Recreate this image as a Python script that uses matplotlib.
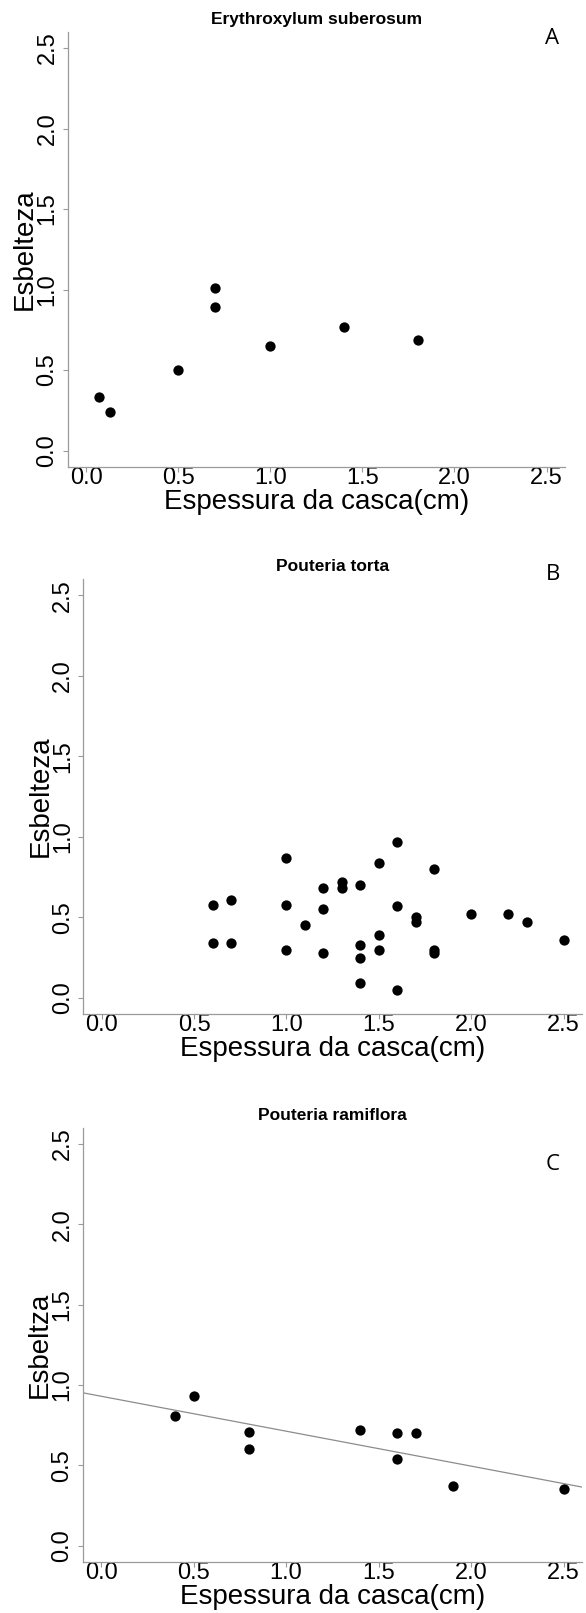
import numpy as np
import matplotlib
matplotlib.use("Agg")
import matplotlib.pyplot as plt
from matplotlib.ticker import FormatStrFormatter

plt.rcParams['font.family'] = ['Liberation Sans', 'DejaVu Sans']

# Painel A - Erythroxylum suberosum
ery_casca = [0.07, 0.13, 0.5, 0.7, 0.7, 1.0, 1.4, 1.8]
ery_esbelteza = [0.33, 0.24, 0.50, 1.01, 0.89, 0.65, 0.77, 0.69]

# Painel B - Pouteria torta
tor_casca = [0.6, 0.6, 0.7, 0.7, 1.0, 1.0, 1.0, 1.1, 1.2, 1.2, 1.2, 1.3, 1.3,
             1.4, 1.4, 1.4, 1.4, 1.5, 1.5, 1.5, 1.6, 1.6, 1.6, 1.7, 1.7,
             1.8, 1.8, 1.8, 2.0, 2.2, 2.3, 2.5]
tor_esbelteza = [0.58, 0.34, 0.61, 0.34, 0.87, 0.58, 0.30, 0.45, 0.68, 0.55, 0.28, 0.72, 0.68,
                 0.70, 0.33, 0.25, 0.09, 0.84, 0.39, 0.30, 0.97, 0.57, 0.05, 0.50, 0.47,
                 0.80, 0.30, 0.28, 0.52, 0.52, 0.47, 0.36]

# Painel C - Pouteria ramiflora
ram_casca = [0.4, 0.5, 0.8, 0.8, 1.4, 1.6, 1.6, 1.7, 1.9, 2.5]
ram_esbelteza = [0.81, 0.93, 0.71, 0.60, 0.72, 0.70, 0.54, 0.70, 0.37, 0.35]

titulos = ["Erythroxylum suberosum", "Pouteria torta", "Pouteria ramiflora"]
rotulos_y = ["Esbelteza", "Esbelteza", "Esbeltza"]
letras = ["A", "B", "C"]
ticks = [0.0, 0.5, 1.0, 1.5, 2.0, 2.5]

W, H = 586, 1613
fig = plt.figure(figsize=(W / 100, H / 100), dpi=100)

# caixas dos eixos em pixels: esquerda, direita, topo, base
caixas = [(67.7, 565, 32, 466.7), (83.3, 582, 579.3, 1014), (82.7, 582, 1128, 1561.7)]
pos_letras = [(552, 39), (553, 575), (553, 1164)]

dados = [(ery_casca, ery_esbelteza), (tor_casca, tor_esbelteza), (ram_casca, ram_esbelteza)]
cinza = '#9a9a9a'

for i, (xs, ys) in enumerate(dados):
    l, r, t, b = caixas[i]
    ax = fig.add_axes([l / W, 1 - b / H, (r - l) / W, (b - t) / H])
    ax.scatter(xs, ys, s=55, color='black', zorder=3, linewidths=0)
    ax.set_xlim(-0.1, 2.6)
    ax.set_ylim(-0.1, 2.6)
    ax.set_xticks(ticks)
    ax.set_yticks(ticks)
    ax.xaxis.set_major_formatter(FormatStrFormatter('%.1f'))
    ax.yaxis.set_major_formatter(FormatStrFormatter('%.1f'))
    for s in ['top', 'right']:
        ax.spines[s].set_visible(False)
    for s in ['left', 'bottom']:
        ax.spines[s].set_color(cinza)
        ax.spines[s].set_linewidth(0.9)
    ax.tick_params(axis='both', colors=cinza, labelcolor='black', labelsize=17,
                   length=3.5, width=0.8)
    ax.tick_params(axis='x', pad=-3.2)
    ax.tick_params(axis='y', pad=3.2, labelrotation=90)
    for lab in ax.get_yticklabels():
        lab.set_va('center')
    ax.set_title(titulos[i], fontsize=12.5, fontweight='bold', pad=6)
    ax.set_xlabel("Espessura da casca(cm)", fontsize=20)
    ax.set_ylabel(rotulos_y[i], fontsize=20)
    ax.xaxis.set_label_coords(0.5, -21.9 / (b - t))
    ax.yaxis.set_label_coords(-30 / (r - l), 0.5)
    lx, ly = pos_letras[i]
    fig.text(lx / W, 1 - ly / H, letras[i], fontsize=16, family=['Open Sans', 'DejaVu Sans'],
             ha='center', va='center')

    if i == 2:
        # reta de regressão linear
        coef = np.polyfit(ram_casca, ram_esbelteza, 1)
        xl = np.array(ax.get_xlim())
        ax.plot(xl, np.polyval(coef, xl), color='#8c8c8c', linewidth=0.9, zorder=2)
        ax.set_xlim(-0.1, 2.6)

fig.savefig("out.png", dpi=100, facecolor='white')
